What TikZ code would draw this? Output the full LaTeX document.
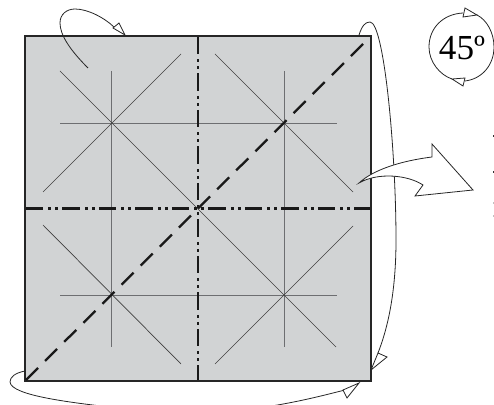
\documentclass[tikz,border=0pt]{standalone}
\usepackage{fontspec}
\setmainfont{Liberation Serif}
\usepackage{tikz}
\definecolor{papergray}{HTML}{D1D3D4}
\definecolor{creasegray}{HTML}{6D6E71}
\tikzset{
  sheet/.style={draw=black!85, line width=0.5mm, fill=papergray},
  creasediag/.style={draw=black!75, line width=0.14mm},
  creasestraight/.style={draw=creasegray, line width=0.18mm},
  mountainfold/.style={draw=black!90, line width=0.46mm, dash pattern=on 3.5mm off 1mm on 0.6mm off 0.8mm on 0.6mm off 0.8mm},
  valleyfold/.style={draw=black!90, line width=0.46mm, dash pattern=on 3.4mm off 2mm},
  flapcurve/.style={draw=black!85, line width=0.16mm},
  flaphead/.style={draw=black!85, line width=0.16mm, fill=white, line join=miter},
  speck/.style={fill=black!80}
}

\begin{document}
\begin{tikzpicture}[x=0.02cm,y=-0.02cm]
  \clip (0,0) rectangle (494,405);
  \useasboundingbox (0,0) rectangle (494,405);

  \draw[sheet] (25,36) rectangle (371,381);
  % creases
  \foreach \y in {123,295} {\draw[creasestraight] (60,\y) -- (337,\y);}
  \foreach \x in {111.5,284.5} {\draw[creasestraight] (\x,71) -- (\x,347);}
  \draw[creasediag] (60,71) -- (336,347);
  \draw[creasediag] (43,192) -- (181,54);
  \draw[creasediag] (215,54) -- (353,192);
  \draw[creasediag] (43,225) -- (181,364);
  \draw[creasediag] (215,364) -- (353,226);
  % folds
  \draw[mountainfold] (198,37) -- (198,380);
  \draw[mountainfold] (26,208.5) -- (370,208.5);
  \draw[valleyfold] (26,380) -- (370,37);

  % flap at the top
  \draw[flapcurve] (88,68) .. controls (70,50) and (60,35) .. (60,23)
    .. controls (60,14) and (67,9) .. (75,9) .. controls (88,9) and (105,18) .. (115,28);
  \draw[flaphead] (125,35) -- (119,23) -- (113,28) -- cycle;
  % flap on the right
  \draw[flapcurve] (359,35) .. controls (362,26) and (365,22) .. (370,22)
    .. controls (384,22) and (396,150) .. (396,240) .. controls (396,295) and (387,330) .. (378,353);
  \draw[flaphead] (371,370) -- (378,353) -- (387,357) -- cycle;
  % flap at the bottom
  \draw[flapcurve] (25,371) .. controls (15,373) and (10,377) .. (10,382)
    .. controls (11,396) and (75,403) .. (118,408);
  \draw[flapcurve] (258,408) .. controls (295,403) and (325,395) .. (345,390);
  \draw[flaphead] (359,383) -- (343,390) -- (347,398) -- cycle;

  % turn over sign
  \node[font=\fontsize{20pt}{20pt}\selectfont, inner sep=0pt] (angle) at (462,48) {45º};
  \draw[flapcurve] (463,13) .. controls (443,14) and (429,28) .. (429,47)
    .. controls (429,62) and (440,75) .. (452,79);
  \draw[flapcurve] (477,15) .. controls (487,20) and (494,33) .. (494,47)
    .. controls (494,65) and (482,79) .. (465,81);
  \draw[flaphead] (477,15) -- (465,8) -- (463,17) -- cycle;
  \draw[flaphead] (452,79) -- (465,78) -- (463,86) -- cycle;

  % open arrow
  \draw[flaphead] (359,183) .. controls (373,170) and (400,161) .. (432,157) -- (432,144)
    -- (473,190) -- (415,196) -- (423,185) .. controls (408,175) and (378,172) .. (359,183) -- cycle;

  % specks on the right edge
  \fill[speck] (492.5,135) rectangle (494,137);
  \fill[speck] (492.5,171) rectangle (494,173);
  \fill[speck, opacity=0.3] (492.5,202) rectangle (494,204);
  \fill[speck, opacity=0.3] (492.5,215) rectangle (494,217);
\end{tikzpicture}
\end{document}
